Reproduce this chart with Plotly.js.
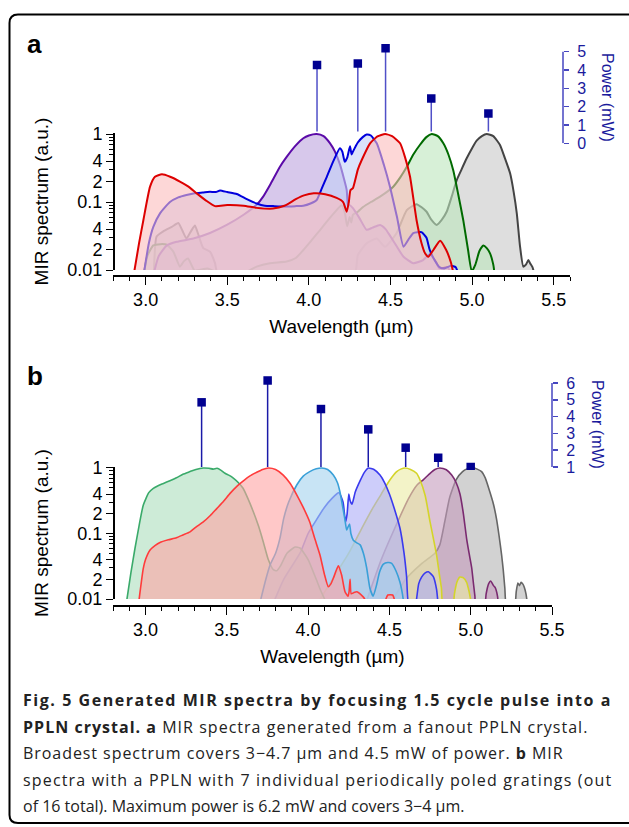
<!DOCTYPE html>
<html><head><meta charset="utf-8">
<script src="https://cdn.plot.ly/plotly-3.0.1.min.js"></script>
<style>html,body{margin:0;padding:0;background:#fff}</style>
</head><body><div id="chart" style="width:629px;height:827px"></div>
<script>
// ---------- Panel a : spectra (wavelength in µm, normalised intensity) ----------
const aGreyX = [3.05,3.067,3.108,3.16,3.2,3.225,3.25,3.28,3.302,3.325,3.353,3.394,3.425,3.44,3.6,4.2,4.283,4.3,4.354,4.416,4.467,4.538,4.6,4.66,4.72,4.75,4.783,4.815,4.845,4.875,4.906,4.935,4.967,5.0,5.028,5.06,5.09,5.13,5.171,5.2,5.233,5.255,5.274,5.294,5.314,5.33,5.345,5.355,5.37,5.386];
const aGreyY = [0.008,0.031,0.037,0.043,0.049,0.038,0.029,0.038,0.045,0.032,0.021,0.0186,0.0126,0.009,0.008,0.008,0.009,0.0166,0.0247,0.029,0.022,0.035,0.076,0.093,0.0725,0.055,0.046,0.055,0.0725,0.12,0.21,0.3,0.44,0.62,0.8,0.93,1.0,0.93,0.69,0.45,0.264,0.14,0.068,0.022,0.0112,0.012,0.014,0.0126,0.011,0.008];

const aGreenX = [2.99,3.01,3.047,3.09,3.13,3.17,3.21,3.235,3.26,3.28,3.3,3.38,3.45,3.6,3.68,3.762,3.864,3.92,3.966,4.02,4.07,4.12,4.17,4.2,4.22,4.235,4.25,4.26,4.27,4.3,4.334,4.38,4.436,4.517,4.56,4.6,4.64,4.68,4.72,4.753,4.79,4.824,4.855,4.885,4.915,4.946,4.975,4.998,5.02,5.045,5.069,5.09,5.11,5.13,5.14];
const aGreenY = [0.009,0.016,0.023,0.024,0.0235,0.0186,0.0112,0.0135,0.0148,0.012,0.0098,0.0105,0.009,0.009,0.0112,0.0126,0.0133,0.015,0.0197,0.028,0.039,0.055,0.076,0.09,0.07,0.044,0.06,0.05,0.065,0.072,0.085,0.1,0.12,0.168,0.23,0.33,0.5,0.69,0.9,1.0,0.93,0.73,0.5,0.29,0.13,0.054,0.02,0.0095,0.012,0.019,0.023,0.021,0.0176,0.012,0.008];

const aPurpleX = [3.045,3.08,3.13,3.19,3.292,3.394,3.497,3.6,3.68,3.72,3.762,3.823,3.864,3.92,3.966,4.0,4.048,4.09,4.13,4.16,4.19,4.215,4.232,4.24,4.25,4.27,4.31,4.354,4.39,4.436,4.47,4.497,4.54,4.58,4.64,4.7,4.74,4.78,4.8,4.85,4.88];
const aPurpleY = [0.008,0.016,0.023,0.026,0.029,0.035,0.046,0.065,0.091,0.12,0.178,0.33,0.46,0.68,0.865,0.95,1.0,0.93,0.73,0.55,0.36,0.22,0.15,0.0886,0.09,0.081,0.058,0.039,0.042,0.046,0.04,0.032,0.022,0.0157,0.0126,0.014,0.017,0.013,0.0105,0.011,0.008];

const aBlueX = [2.986,3.02,3.047,3.088,3.149,3.2,3.25,3.3,3.35,3.394,3.43,3.456,3.5,3.558,3.62,3.68,3.73,3.782,3.85,3.92,3.966,4.01,4.048,4.08,4.11,4.15,4.19,4.205,4.22,4.235,4.252,4.262,4.27,4.3,4.33,4.354,4.38,4.416,4.46,4.497,4.54,4.58,4.61,4.64,4.69,4.72,4.74,4.77,4.8,4.83,4.87,4.9,4.92];
const aBlueY = [0.008,0.025,0.043,0.068,0.1,0.117,0.127,0.135,0.138,0.141,0.14,0.148,0.14,0.131,0.11,0.095,0.088,0.087,0.086,0.087,0.088,0.095,0.107,0.16,0.235,0.4,0.62,0.55,0.39,0.45,0.66,0.5,0.55,0.75,0.9,0.985,0.95,0.73,0.35,0.168,0.06,0.022,0.028,0.035,0.036,0.03,0.02,0.014,0.011,0.0105,0.0115,0.011,0.008];

const aRedX = [2.925,2.96,2.986,3.027,3.057,3.1,3.15,3.21,3.26,3.313,3.37,3.425,3.5,3.6,3.68,3.78,3.85,3.92,3.97,4.03,4.1,4.17,4.21,4.232,4.245,4.255,4.27,4.3,4.324,4.375,4.42,4.467,4.51,4.559,4.59,4.62,4.66,4.69,4.712,4.732,4.763,4.804,4.84,4.87,4.89];
const aRedY = [0.008,0.025,0.054,0.168,0.235,0.255,0.235,0.2,0.17,0.134,0.105,0.087,0.09,0.088,0.082,0.08,0.088,0.11,0.125,0.134,0.13,0.115,0.1,0.072,0.1,0.15,0.16,0.3,0.415,0.73,0.92,1.0,0.93,0.73,0.45,0.235,0.054,0.025,0.0176,0.0157,0.0197,0.027,0.02,0.013,0.008];

// Panel a : power (mW) at the wavelength of each spectrum
const aPowerX = [4.05, 4.30, 4.47, 4.75, 5.10];
const aPowerY = [4.27, 4.36, 5.18, 2.44, 1.62];
const aStemBase = 0.65;

// ---------- Panel b : spectra ----------
const bGreyX = [4.5,4.6,4.7,4.78,4.81,4.84,4.87,4.91,4.95,4.98,5.016,5.04,5.067,5.09,5.118,5.14,5.16,5.175,5.19,5.2,5.21,5.22,5.27,5.28,5.29,5.3,5.31,5.32,5.33,5.34,5.35];
const bGreyY = [0.008,0.02,0.035,0.05,0.067,0.15,0.35,0.66,0.88,0.97,1.0,0.96,0.88,0.7,0.43,0.28,0.16,0.09,0.047,0.028,0.0146,0.008,0.008,0.013,0.0176,0.016,0.018,0.017,0.015,0.012,0.008];

const bMagentaX = [4.35,4.45,4.55,4.62,4.67,4.708,4.75,4.78,4.81,4.85,4.883,4.91,4.934,4.955,4.975,4.99,5.006,5.016,5.026,5.03,5.085,5.095,5.11,5.123,5.14,5.15,5.165,5.17];
const bMagentaY = [0.008,0.04,0.15,0.35,0.55,0.66,0.83,0.95,1.0,0.94,0.78,0.6,0.4,0.2,0.083,0.05,0.03,0.018,0.011,0.008,0.008,0.012,0.017,0.0188,0.016,0.015,0.011,0.008];

const bYellowX = [4.05,4.15,4.25,4.33,4.4,4.45,4.483,4.515,4.545,4.57,4.596,4.63,4.667,4.688,4.72,4.75,4.77,4.79,4.805,4.82,4.83,4.89,4.9,4.915,4.934,4.955,4.975,4.99,5.006];
const bYellowY = [0.008,0.02,0.05,0.12,0.25,0.4,0.55,0.72,0.88,0.96,1.0,0.95,0.83,0.66,0.38,0.15,0.085,0.047,0.026,0.0146,0.008,0.008,0.012,0.018,0.0216,0.021,0.018,0.013,0.008];

const bBlueX = [3.78,3.85,3.95,4.0,4.05,4.1,4.15,4.19,4.215,4.23,4.24,4.25,4.258,4.27,4.29,4.32,4.345,4.37,4.405,4.442,4.47,4.5,4.53,4.565,4.59,4.606,4.62,4.66,4.667,4.68,4.698,4.72,4.74,4.77,4.79,4.8];
const bBlueY = [0.008,0.02,0.05,0.1,0.16,0.25,0.35,0.42,0.3,0.15,0.2,0.4,0.32,0.28,0.43,0.64,0.85,1.0,0.95,0.78,0.6,0.4,0.24,0.12,0.05,0.0216,0.008,0.008,0.01,0.017,0.0216,0.025,0.026,0.022,0.014,0.008];

const bGreenX = [2.88,2.91,2.935,2.96,2.986,3.02,3.048,3.08,3.11,3.15,3.19,3.23,3.274,3.31,3.355,3.39,3.417,3.44,3.465,3.489,3.515,3.54,3.57,3.6,3.63,3.663,3.695,3.724,3.755,3.786,3.807,3.83,3.87,3.92,3.95,4.0,4.05,4.08,4.12];
const bGreenY = [0.008,0.025,0.059,0.13,0.27,0.42,0.49,0.54,0.58,0.64,0.71,0.8,0.88,0.95,1.0,0.99,0.96,0.99,0.92,0.83,0.77,0.7,0.6,0.49,0.34,0.215,0.13,0.075,0.04,0.028,0.027,0.032,0.05,0.062,0.06,0.04,0.02,0.013,0.008];

const bLightBlueX = [3.7,3.74,3.766,3.8,3.827,3.85,3.88,3.93,3.97,4.01,4.05,4.083,4.12,4.155,4.18,4.196,4.212,4.227,4.237,4.245,4.255,4.263,4.278,4.3,4.32,4.34,4.36,4.38,4.4,4.42,4.44,4.463,4.49,4.514,4.54,4.565,4.58,4.59];
const bLightBlueY = [0.008,0.02,0.033,0.05,0.085,0.17,0.3,0.55,0.75,0.88,0.97,1.0,0.95,0.78,0.6,0.43,0.26,0.16,0.113,0.125,0.14,0.1,0.079,0.072,0.067,0.05,0.03,0.0146,0.011,0.016,0.026,0.034,0.036,0.035,0.027,0.018,0.012,0.008];

const bRedX = [2.956,2.986,3.0,3.028,3.06,3.089,3.14,3.19,3.23,3.274,3.31,3.355,3.4,3.438,3.48,3.52,3.56,3.6,3.64,3.684,3.72,3.755,3.8,3.847,3.89,3.93,3.97,4.01,4.04,4.073,4.1,4.124,4.14,4.155,4.186,4.206,4.227,4.245,4.252,4.258,4.265,4.28,4.3,4.34,4.36,4.47,4.49,4.52,4.54];
const bRedY = [0.008,0.029,0.04,0.056,0.066,0.073,0.08,0.086,0.095,0.106,0.125,0.15,0.19,0.24,0.31,0.41,0.52,0.63,0.75,0.86,0.95,1.0,0.95,0.78,0.58,0.39,0.25,0.15,0.085,0.047,0.024,0.0154,0.017,0.0207,0.032,0.0232,0.0129,0.011,0.013,0.02,0.012,0.0125,0.0129,0.0107,0.0092,0.0092,0.0115,0.0115,0.008];

// Panel b : power (mW)
const bPowerX = [3.345, 3.751, 4.079, 4.37, 4.60, 4.80, 5.0];
const bPowerY = [4.85, 6.15, 4.45, 3.24, 2.15, 1.55, 1.0];
const bStemBase = 1.0;

// Axis tick labels
const xTickVals = [3.0, 3.5, 4.0, 4.5, 5.0, 5.5];
const xTickText = ['3.0', '3.5', '4.0', '4.5', '5.0', '5.5'];
const yTickVals = [0.01, 0.02, 0.04, 0.1, 0.2, 0.4, 1];
const yTickText = ['0.01', '2', '4', '0.1', '2', '4', '1'];
const yMinorVals = [0.03,0.05,0.06,0.07,0.08,0.09,0.3,0.5,0.6,0.7,0.8,0.9];
const aPowerTicks = [0, 1, 2, 3, 4, 5];
const bPowerTicks = [1, 2, 3, 4, 5, 6];

// Caption lines
const captionLines = [
  '<span style="letter-spacing:1.55px"><b>Fig. 5 Generated MIR spectra by focusing 1.5 cycle pulse into a</b></span>',
  '<span style="letter-spacing:1.02px"><b>PPLN crystal. a</b> MIR spectra generated from a fanout PPLN crystal.</span>',
  '<span style="letter-spacing:0.94px">Broadest spectrum covers 3−4.7 µm and 4.5 mW of power. <b>b</b> MIR</span>',
  '<span style="letter-spacing:1.16px">spectra with a PPLN with 7 individual periodically poled gratings (out</span>',
  'of 16 total). Maximum power is 6.2 mW and covers 3−4 µm.'
];

// ---------- layout helpers ----------
const W = 629, H = 827;
const fx = px => px / W;
const fy = py => 1 - py / H;
const FONT = 'Liberation Sans, Arial, Helvetica, sans-serif';
const CAP = 'Open Sans, sans-serif';
const PBLUE = '#1a1a9c';

function spec(x, y, lc, fc, xa, ya, w) {
  return {type: 'scatter', mode: 'lines', x: x, y: y, xaxis: xa, yaxis: ya,
    fill: 'toself', fillcolor: fc,
    line: {color: lc, width: w, shape: 'spline', smoothing: 0.5},
    hoverinfo: 'skip', showlegend: false};
}
function power(x, y, base, xa, ya, stemColor) {
  return {type: 'scatter', mode: 'markers', x: x, y: y, xaxis: xa, yaxis: ya,
    marker: {symbol: 'square', size: 8.5, color: '#000090'},
    error_y: {type: 'data', symmetric: false, array: y.map(() => 0),
      arrayminus: y.map(p => Math.max(0, p - base)), width: 0, thickness: 1.5, color: stemColor},
    hoverinfo: 'skip', showlegend: false};
}

const traces = [
  spec(aGreyX, aGreyY, '#444444', 'rgba(200,200,200,0.6)', 'x', 'y', 2),
  spec(aGreenX, aGreenY, '#006a00', 'rgba(188,230,188,0.6)', 'x', 'y', 2),
  spec(aPurpleX, aPurpleY, '#5b0aa8', 'rgba(188,163,222,0.6)', 'x', 'y', 2),
  spec(aBlueX, aBlueY, '#0000dd', 'rgba(193,207,247,0.6)', 'x', 'y', 2),
  spec(aRedX, aRedY, '#dd0000', 'rgba(252,188,188,0.6)', 'x', 'y', 2),
  power(aPowerX, aPowerY, aStemBase, 'x', 'y3', '#5050c8'),

  spec(bGreyX, bGreyY, '#666666', 'rgba(180,180,180,0.6)', 'x2', 'y2', 1.6),
  spec(bMagentaX, bMagentaY, '#7a2a70', 'rgba(197,155,188,0.6)', 'x2', 'y2', 1.6),
  spec(bYellowX, bYellowY, '#d4d42a', 'rgba(235,235,163,0.6)', 'x2', 'y2', 1.6),
  spec(bBlueX, bBlueY, '#3a3aee', 'rgba(172,172,247,0.6)', 'x2', 'y2', 1.6),
  spec(bGreenX, bGreenY, '#3aaa6a', 'rgba(172,222,188,0.6)', 'x2', 'y2', 1.6),
  spec(bLightBlueX, bLightBlueY, '#3aa0d8', 'rgba(163,210,238,0.6)', 'x2', 'y2', 1.6),
  spec(bRedX, bRedY, '#ff3b3b', 'rgba(255,163,163,0.6)', 'x2', 'y2', 1.6),
  power(bPowerX, bPowerY, bStemBase, 'x2', 'y4', '#1a1aa8')
];

function xAxis(domain, range, pos) {
  return {domain: domain, range: range, anchor: 'free', position: pos,
    showline: true, linecolor: '#000', linewidth: 1.5, showgrid: false, zeroline: false,
    ticks: 'outside', ticklen: 8, tickwidth: 1, tickcolor: '#000',
    tickmode: 'array', tickvals: xTickVals, ticktext: xTickText,
    minor: {ticks: 'outside', dtick: 0.1, tick0: 0, ticklen: 4, tickcolor: '#000', tickwidth: 1},
    tickfont: {family: FONT, size: 18, color: '#000'},
    title: {text: 'Wavelength (µm)', font: {family: FONT, size: 19, color: '#000'}, standoff: 10},
    fixedrange: true, automargin: false};
}
function yAxis(domain, pos) {
  return {domain: domain, type: 'log', range: [-2, 0.015], anchor: 'free', position: pos,
    showline: true, linecolor: '#000', linewidth: 1.5, showgrid: false, zeroline: false,
    ticks: 'outside', ticklen: 7, tickwidth: 1, tickcolor: '#000',
    tickmode: 'array', tickvals: yTickVals, ticktext: yTickText,
    minor: {ticks: 'outside', tickmode: 'array', tickvals: yMinorVals, ticklen: 4, tickcolor: '#000', tickwidth: 1},
    tickfont: {family: FONT, size: 18, color: '#000'},
    title: {text: 'MIR spectrum (a.u.)', font: {family: FONT, size: 19, color: '#000'}, standoff: 12},
    fixedrange: true, automargin: false};
}
function pAxis(domain, range, pos, vals) {
  return {domain: domain, range: range, anchor: 'free', position: pos, side: 'right',
    showline: false, showgrid: false, zeroline: false,
    ticks: 'outside', ticklen: 5, tickwidth: 1.5, tickcolor: '#4646c0',
    tickmode: 'array', tickvals: vals, ticklabelstandoff: 5,
    tickfont: {family: FONT, size: 16, color: PBLUE}, fixedrange: true, automargin: false};
}

const aPX = 563, bPX = 552;
const captionY = [700, 727, 753, 780, 806];
const annotations = [
  {text: '<b>a</b>', xref: 'paper', yref: 'paper', x: fx(25), y: fy(44), xanchor: 'left', yanchor: 'middle', showarrow: false, font: {family: FONT, size: 26, color: '#000'}},
  {text: '<b>b</b>', xref: 'paper', yref: 'paper', x: fx(25), y: fy(376), xanchor: 'left', yanchor: 'middle', showarrow: false, font: {family: FONT, size: 26, color: '#000'}},
  {text: 'Power (mW)', textangle: 90, xref: 'paper', yref: 'paper', x: fx(608), y: fy(97), xanchor: 'center', yanchor: 'middle', showarrow: false, font: {family: FONT, size: 16, color: PBLUE}},
  {text: 'Power (mW)', textangle: 90, xref: 'paper', yref: 'paper', x: fx(598), y: fy(424), xanchor: 'center', yanchor: 'middle', showarrow: false, font: {family: FONT, size: 16, color: PBLUE}}
];
captionLines.forEach((t, i) => annotations.push({
  text: t, xref: 'paper', yref: 'paper', x: fx(21), y: fy(captionY[i]), xanchor: 'left', yanchor: 'middle',
  showarrow: false, font: {family: CAP, size: 16, color: '#222'}}));

const layout = {
  width: W, height: H, margin: {l: 0, r: 0, t: 0, b: 0}, autosize: false,
  paper_bgcolor: '#fff', plot_bgcolor: 'rgba(0,0,0,0)', showlegend: false,
  xaxis: xAxis([fx(113), fx(570)], [2.8, 5.6], fy(275)),
  yaxis: yAxis([fy(270), fy(133)], fx(113)),
  xaxis2: xAxis([fx(113), fx(552)], [2.8, 5.5], fy(605)),
  yaxis2: yAxis([fy(599), fy(467)], fx(113)),
  yaxis3: pAxis([fy(143.3), fy(40)], [0, (143.3 - 40) / 18.33], fx(aPX), aPowerTicks),
  yaxis4: pAxis([fy(470), fy(374)], [1 - 3 / 16.8, 6 + 9 / 16.8], fx(bPX), bPowerTicks),
  shapes: [
    {type: 'line', xref: 'paper', yref: 'y3', x0: fx(aPX), x1: fx(aPX), y0: 0, y1: 5, line: {color: '#4646c0', width: 1.5}},
    {type: 'line', xref: 'paper', yref: 'y4', x0: fx(bPX), x1: fx(bPX), y0: 1, y1: 6, line: {color: '#4646c0', width: 1.5}},
    {type: 'path', xref: 'paper', yref: 'paper', line: {color: '#000', width: 2},
      path: 'M ' + fx(640) + ',' + fy(14.5) + ' L ' + fx(18) + ',' + fy(14.5) +
            ' Q ' + fx(9.5) + ',' + fy(14.5) + ' ' + fx(9.5) + ',' + fy(23) +
            ' L ' + fx(9.5) + ',' + fy(815) + ' Q ' + fx(9.5) + ',' + fy(823) + ' ' + fx(18) + ',' + fy(823) +
            ' L ' + fx(640) + ',' + fy(823)}
  ],
  annotations: annotations
};

Plotly.newPlot('chart', traces, layout, {staticPlot: true, displayModeBar: false});
</script></body></html>
